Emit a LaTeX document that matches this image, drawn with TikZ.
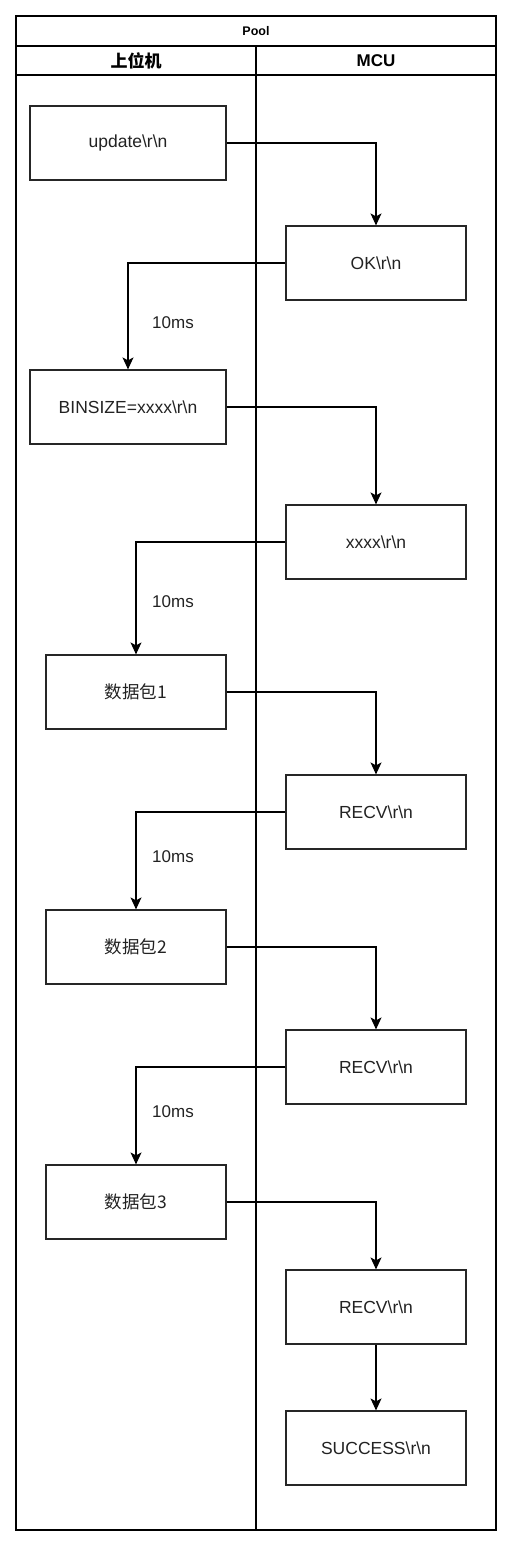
\documentclass[tikz,border=0pt]{standalone}
\usepackage{fontspec}
\setmainfont{Liberation Sans}
\newfontfamily\cjk{Noto Sans CJK SC}
\usetikzlibrary{arrows.meta}
\definecolor{txt}{HTML}{222222}
\tikzset{
  lane/.style={draw=black, line width=1.5pt},
  box/.style={draw=black!85, line width=1.2pt, minimum width=180pt, minimum height=74pt, inner sep=0pt, font=\fontsize{17.5}{20}\selectfont, text=txt},
  wbox/.style={box, minimum width=196pt},
  arr/.style={draw=black, line width=1.2pt, -{Stealth[length=12pt,width=11pt,inset=3pt]}},
  lbl/.style={font=\fontsize{17}{20}\selectfont, text=txt, inner sep=0pt}
}
\begin{document}
\begin{tikzpicture}[x=1pt,y=-1pt]
\useasboundingbox (0,0) rectangle (512,1547);
% pool
\draw[lane] (16,16) rectangle (496,1530);
\draw[lane] (16,46) -- (496,46);
\draw[lane] (16,75) -- (496,75);
\draw[lane] (256,46) -- (256,1530);
\node[font=\bfseries\fontsize{12.5}{14}\selectfont] (pool) at (256,31) {Pool};
\node[font=\bfseries\fontsize{17}{20}\selectfont] (h1) at (136,60.5) {\cjk\bfseries 上位机};
\node[font=\bfseries\fontsize{17}{20}\selectfont] (h2) at (376,60.5) {MCU};
% boxes
\node[wbox] (upd) at (128,143) {update\textbackslash r\textbackslash n};
\node[box] (ok) at (376,263) {OK\textbackslash r\textbackslash n};
\node[wbox] (bin) at (128,407) {BINSIZE=xxxx\textbackslash r\textbackslash n};
\node[box] (xx) at (376,542) {xxxx\textbackslash r\textbackslash n};
\node[box] (d1) at (136,692) {\cjk 数据包1};
\node[box] (r1) at (376,812) {RECV\textbackslash r\textbackslash n};
\node[box] (d2) at (136,947) {\cjk 数据包2};
\node[box] (r2) at (376,1067) {RECV\textbackslash r\textbackslash n};
\node[box] (d3) at (136,1202) {\cjk 数据包3};
\node[box] (r3) at (376,1307) {RECV\textbackslash r\textbackslash n};
\node[box] (suc) at (376,1448) {SUCCESS\textbackslash r\textbackslash n};
% edges
\draw[arr] (upd.east) -| (ok.north);
\draw[arr] (ok.west) -| (bin.north);
\draw[arr] (bin.east) -| (xx.north);
\draw[arr] (xx.west) -| (d1.north);
\draw[arr] (d1.east) -| (r1.north);
\draw[arr] (r1.west) -| (d2.north);
\draw[arr] (d2.east) -| (r2.north);
\draw[arr] (r2.west) -| (d3.north);
\draw[arr] (d3.east) -| (r3.north);
\draw[arr] (r3.south) -- (suc.north);
% labels
\node[lbl] (l1) at (173,323) {10ms};
\node[lbl] (l2) at (173,602) {10ms};
\node[lbl] (l3) at (173,857) {10ms};
\node[lbl] (l4) at (173,1112) {10ms};
\end{tikzpicture}
\end{document}
